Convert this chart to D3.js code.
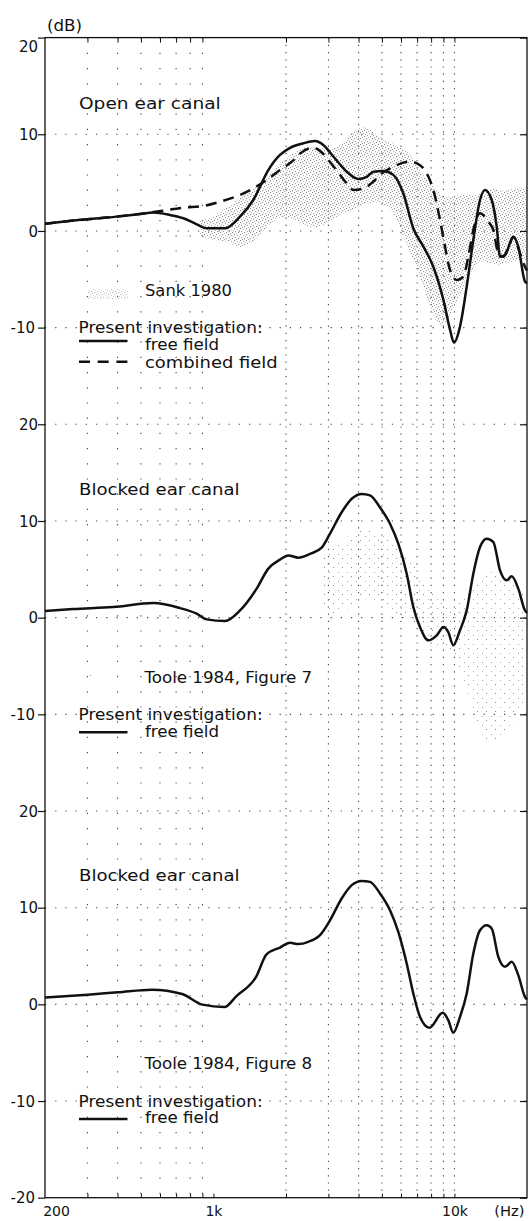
<!DOCTYPE html>
<html><head><meta charset="utf-8">
<script src="https://cdn.jsdelivr.net/npm/d3@7/dist/d3.min.js"></script>
<style>
body{margin:0;background:#fff}
svg{display:block}
text{font-family:"DejaVu Sans",sans-serif;fill:#111}
</style>
</head><body>
<svg id="c" width="529" height="1221"></svg>
<script>
// ---------- data ----------
const yTickLabels = ["20","10","0","-10","20","10","0","-10","20","10","0","-10","-20"];
const xTickValues = [200, 1000, 10000];
const xTickLabels = ["200", "1k", "10k"];
const gridFreqs = [300,400,500,600,700,800,900,2000,3000,4000,5000,6000,7000,8000,9000,10000];
const panelTitles = ["Open ear canal", "Blocked ear canal", "Blocked ear canal"];
const referenceLabels = ["Sank 1980", "Toole 1984, Figure 7", "Toole 1984, Figure 8"];
const legendHeading = "Present investigation:";
const seriesNames = ["free field", "combined field"];

// Open ear canal, present investigation, free field [Hz, dB]
const openFreeField = [[200,0.75],[262,1.07],[361,1.38],[496,1.76],[563,1.9],[660,1.65],[750,1.31],[852,0.69],[938,0.28],[1117,0.28],[1289,1.48],[1463,3.2],[1689,6.3],[1888,7.86],[2078,8.6],[2360,9.07],[2638,9.3],[2856,8.9],[3143,7.7],[3572,6.13],[3990,5.38],[4325,5.6],[4606,6.13],[5066,6.2],[5575,5.8],[6133,3.9],[6749,0.28],[7426,-1.6],[8172,-3.7],[8992,-7.1],[9585,-10.2],[9956,-11.55],[10544,-9.9],[11242,-5.76],[11975,-0.93],[12766,3.2],[13390,4.24],[14277,3.2],[14974,0.44],[15453,-2.66],[16208,-2.48],[17548,-0.59],[18401,-1.62],[19618,-5.24],[20000,-5.4]];
// Open ear canal, present investigation, combined field
const openCombinedField = [[200,0.75],[262,1.07],[361,1.38],[496,1.76],[563,1.95],[619,2.1],[750,2.41],[908,2.59],[1065,3.03],[1289,3.72],[1463,4.4],[1664,5.27],[1888,6.3],[2144,7.3],[2287,8.0],[2596,8.6],[3195,6.48],[3572,4.93],[3804,4.24],[4185,4.4],[4606,5.1],[4910,5.8],[5575,6.65],[6539,7.17],[7194,6.8],[7672,5.97],[8172,4.24],[8710,1.14],[9137,-1.62],[9585,-4.03],[10219,-5.07],[10884,-4.72],[11414,-2.66],[11975,0.1],[12766,1.83],[13822,0.96],[14497,0.1],[15204,-2.3],[15948,-2.66],[17004,-1.27],[17548,-0.6],[18708,-2.3],[19618,-3.7],[20000,-4.1]];
// Sank 1980 spread [Hz, low dB, high dB]
const sankRange = [[880,-0.5,1],[1000,-1,1.5],[1150,-1,2.5],[1300,-2,3.5],[1500,-1,4.5],[1800,1.5,6.5],[2100,1.5,8],[2400,0.5,8.8],[2800,0.2,8.5],[3200,1.5,8.5],[3600,2,9.5],[4000,2.5,11],[4500,3,10.5],[5000,3,9.5],[5600,2,9],[6200,-1,8.5],[6800,-3,7.5],[7500,-6,5.5],[8200,-9,4.5],[9000,-10.5,3.5],[10000,-7.5,3.5],[11000,-6,4],[12000,-3.5,3.5],[13000,-3,4],[14500,-3.5,4.5],[16000,-3.5,4],[18000,-3,4.5],[20000,-3,4.5]];
// Blocked ear canal, free field (Toole fig. 7 panel)
const blockedFig7 = [[200,0.68],[262,0.89],[384,1.1],[563,1.51],[727,0.99],[852,0.41],[938,-0.18],[1117,-0.35],[1289,0.75],[1511,3.0],[1689,5.07],[1888,6.0],[2044,6.44],[2250,6.2],[2516,6.6],[2813,7.24],[3046,8.69],[3404,10.9],[3748,12.3],[4122,12.8],[4464,12.65],[4910,11.4],[5402,9.72],[5848,7.65],[6337,4.55],[6749,1.1],[7194,-0.97],[7792,-2.35],[8440,-1.83],[9000,-0.97],[9428,-1.49],[9890,-2.86],[10544,-1.31],[11242,0.75],[11975,4.55],[12766,7.3],[13610,8.17],[14497,7.82],[15453,4.89],[16476,3.86],[17281,4.27],[18401,3.0],[19618,0.75],[20000,0.5]];
// Toole 1984 fig. 7 spread [Hz, low dB, high dB]
const tooleRange = [[2800,1,6],[3300,0,7.5],[4000,2,9.5],[4800,2,9],[5500,0.5,8],[6500,-0.5,6],[7500,-1.5,4],[8500,-3,2],[9500,-3.5,1],[10500,-5,1.5],[11500,-8,3],[12500,-11,4],[13500,-13,5],[15000,-13,4.5],[16500,-12,4],[18000,-10,3.5],[20000,-8,3]];
// Blocked ear canal, free field (Toole fig. 8 panel)
const blockedFig8 = [[200,0.7],[301,1.0],[402,1.25],[555,1.52],[742,1.07],[900,-0.03],[1110,-0.28],[1243,0.83],[1507,2.9],[1660,5.16],[1888,5.88],[2078,6.36],[2250,6.23],[2476,6.47],[2768,7.16],[3046,8.7],[3404,10.95],[3748,12.33],[4122,12.77],[4464,12.67],[4910,11.47],[5402,9.74],[5848,7.5],[6337,4.23],[6749,1.13],[7194,-1.29],[7866,-2.43],[8938,-0.88],[9428,-1.63],[9890,-2.94],[10544,-1.29],[11242,1.13],[11975,5.26],[12766,7.67],[13610,8.19],[14277,7.85],[15204,4.91],[16208,3.88],[17281,4.4],[18401,3.02],[19618,0.78],[20000,0.5]];

// ---------- layout ----------
const svg = d3.select("#c");
const L = 45, R = 527, top0 = 37.6, ph = 386.7;
const x = d3.scaleLog().domain([200, 20000]).range([L, R]);
const ys = [0,1,2].map(i => d3.scaleLinear().domain([-20, 20]).range([top0 + ph*(i+1), top0 + ph*i]));
const bottom = top0 + 3*ph;

const defs = svg.append("defs");
const pS = defs.append("pattern").attr("id","sank").attr("patternUnits","userSpaceOnUse").attr("width",6).attr("height",6);
[[0,0,"#888"],[3,1,"#aaa"],[1,3,"#999"],[4,4,"#888"],[5,2,"#bbb"],[2,5,"#aaa"]].forEach(p =>
  pS.append("rect").attr("x",p[0]).attr("y",p[1]).attr("width",1.1).attr("height",1.1).attr("fill",p[2]));
const pT = defs.append("pattern").attr("id","toole").attr("patternUnits","userSpaceOnUse").attr("width",9).attr("height",9);
pT.append("rect").attr("x",0).attr("y",0).attr("width",1).attr("height",1).attr("fill","#888");
pT.append("rect").attr("x",5).attr("y",5).attr("width",1).attr("height",1).attr("fill","#aaa");

// grid
const grid = svg.append("g").attr("stroke","#444").attr("stroke-width",1.1);
gridFreqs.forEach(f => {
  grid.append("line").attr("x1",x(f)).attr("x2",x(f)).attr("y1",top0).attr("y2",bottom)
    .attr("stroke-dasharray", f < 1000 ? "1.2,14" : "1.2,6");
});
[0,1,2].forEach(i => {
  [20,10,0,-10].forEach(v => {
    if (i === 0 && v === 20) return;
    grid.append("line").attr("x1",L).attr("x2",R).attr("y1",ys[i](v)).attr("y2",ys[i](v))
      .attr("stroke-dasharray","1.2,9");
  });
});

// bands
const band = (sc) => d3.area().x(d => x(d[0])).y0(d => sc(d[1])).y1(d => sc(d[2])).curve(d3.curveBasis);
svg.append("path").datum(sankRange).attr("d", band(ys[0])).attr("fill","url(#sank)");
svg.append("path").datum(tooleRange).attr("d", band(ys[1])).attr("fill","url(#toole)");

// curves
const line = (sc) => d3.line().x(d => x(d[0])).y(d => sc(d[1])).curve(d3.curveMonotoneX);
const curveStyle = p => p.attr("fill","none").attr("stroke","#111").attr("stroke-width",2.5)
  .attr("stroke-linejoin","round").attr("stroke-linecap","butt");
svg.append("path").datum(openCombinedField).attr("d", line(ys[0])).call(curveStyle).attr("stroke-dasharray","11,7");
svg.append("path").datum(openFreeField).attr("d", line(ys[0])).call(curveStyle);
svg.append("path").datum(blockedFig7).attr("d", line(ys[1])).call(curveStyle);
svg.append("path").datum(blockedFig8).attr("d", line(ys[2])).call(curveStyle);

// frame
svg.append("rect").attr("x",L).attr("y",top0).attr("width",R-L).attr("height",bottom-top0)
  .attr("fill","none").attr("stroke","#111").attr("stroke-width",1.3);

// axes
[0,1,2].forEach(i => {
  const vals = i === 2 ? [20,10,0,-10,-20] : [20,10,0,-10];
  const gl = svg.append("g").attr("transform",`translate(${L},0)`)
    .call(d3.axisLeft(ys[i]).tickValues(vals).tickSize(7).tickPadding(1).tickFormat((d,j) => yTickLabels[i*4+j]));
  gl.select(".domain").remove();
  gl.selectAll("line").attr("stroke","#111").attr("stroke-width",1.2);
  gl.selectAll("text").attr("font-size",15).attr("font-family","DejaVu Sans").attr("fill","#111")
    .attr("x", d => d < 0 ? -10 : -7)
    .attr("dy", (d) => (i === 0 && d === 20) ? "0.9em" : "0.35em");
  const gr = svg.append("g").attr("transform",`translate(${R},0)`)
    .call(d3.axisRight(ys[i]).tickValues(vals).tickSize(-7).tickFormat(""));
  gr.select(".domain").remove();
  gr.selectAll("line").attr("stroke","#111").attr("stroke-width",1.2);
});
const gt = svg.append("g").attr("transform",`translate(0,${top0})`)
  .call(d3.axisTop(x).tickValues(gridFreqs).tickSize(-5).tickFormat(""));
gt.select(".domain").remove();
gt.selectAll("line").attr("stroke","#111");
const gb = svg.append("g").attr("transform",`translate(0,${bottom})`)
  .call(d3.axisBottom(x).tickValues(gridFreqs.concat([1000])).tickSize(-4).tickFormat(""));
gb.select(".domain").remove();
gb.selectAll("line").attr("stroke","#111");
const gbl = svg.append("g").attr("transform",`translate(0,${bottom})`)
  .call(d3.axisBottom(x).tickValues(xTickValues).tickSize(0).tickFormat((d,j) => xTickLabels[j]));
gbl.select(".domain").remove();
gbl.selectAll("text").attr("font-size",14).attr("font-family","DejaVu Sans").attr("fill","#111")
  .attr("y",18.8).attr("dy",0).attr("dx", (d,j) => j === 0 ? 11 : 0);

// texts
function label(str, tx, ty, len, size) {
  const t = svg.append("text").attr("x",tx).attr("y",ty).attr("font-size", size || 16).text(str);
  if (len) t.attr("textLength", len).attr("lengthAdjust","spacingAndGlyphs");
  return t;
}
label("(dB)", 47, 31, 35, 15);
label("(Hz)", 494.3, 1215.5, 30.3, 14);

const titleY = [108.5, 495, 881];
const refY = [296, 683.3, 1069.3];
const headY = [333.3, 720, 1106.7];
const freeY = [350, 737.3, 1123.3];
const lineY = [341, 732.3, 1119];
[0,1,2].forEach(i => {
  label(panelTitles[i], 79, titleY[i], i === 0 ? 141.7 : 160.6);
  label(referenceLabels[i], i === 0 ? 145 : 144.4, refY[i], i === 0 ? 87 : 167.7);
  label(legendHeading, 78.6, headY[i], 184);
  label(seriesNames[0], 145, freeY[i], 74);
  svg.append("line").attr("x1",79).attr("x2",127.5).attr("y1",lineY[i]).attr("y2",lineY[i])
    .attr("stroke","#111").attr("stroke-width",2.4);
});
label(seriesNames[1], 145, 368.3, 132.6);
svg.append("line").attr("x1",79).attr("x2",127.5).attr("y1",361.7).attr("y2",361.7)
  .attr("stroke","#111").attr("stroke-width",2.4).attr("stroke-dasharray","11,7.7");
// stipple legend symbols
svg.append("rect").attr("x",88).attr("y",289).attr("width",40).attr("height",10).attr("fill","url(#sank)").attr("opacity",0.6);
svg.append("rect").attr("x",86).attr("y",672).attr("width",10).attr("height",8).attr("fill","url(#toole)");
</script>
</body></html>
